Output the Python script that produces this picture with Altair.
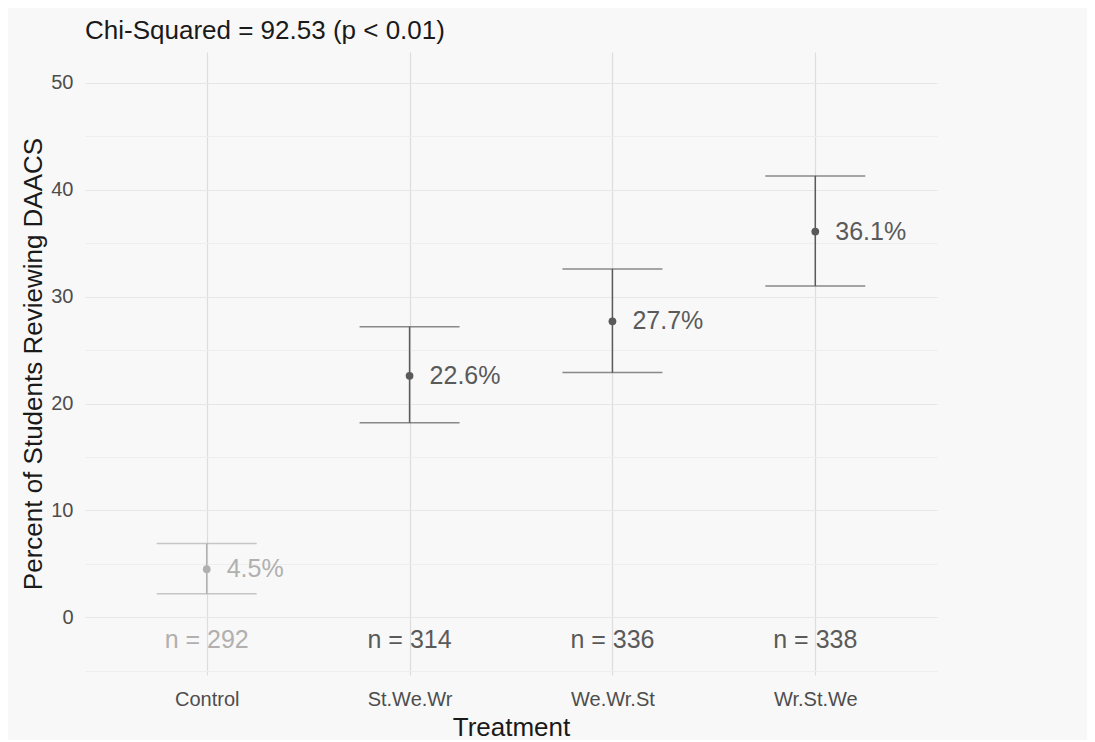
import altair as alt
import pandas as pd

treatments = ["Control", "St.We.Wr", "We.Wr.St", "Wr.St.We"]
percent = [4.5, 22.6, 27.7, 36.1]
lower = [2.2, 18.2, 22.9, 31.0]
upper = [6.9, 27.2, 32.6, 41.3]
n_students = [292, 314, 336, 338]
groups = ["control" if t == "Control" else "treatment" for t in treatments]

df = pd.DataFrame({
    "Treatment": treatments,
    "pct": percent,
    "lo": lower,
    "hi": upper,
    "n": n_students,
    "group": groups,
})
df["pct_label"] = df["pct"].map(lambda v: f"{v:.1f}%")
df["n_label"] = df["n"].map(lambda v: f"n = {v}")

FONT = "Liberation Sans"

x_enc = alt.X(
    "Treatment:N",
    sort=treatments,
    scale=alt.Scale(type="point", padding=0.6),
    axis=alt.Axis(
        title="Treatment",
        grid=True,
        ticks=False,
        domain=False,
        labelPadding=14,
        labelFontSize=20,
        labelColor="#4d4d4d",
        titleFontSize=26,
        titleColor="#1a1a1a",
        titleFontWeight="normal",
        titlePadding=5,
        labelAngle=0,
    ),
)

y_scale = alt.Scale(domain=[-5.4, 52.9], nice=False, zero=False)
y_axis = alt.Axis(
    title="Percent of Students Reviewing DAACS",
    values=[-5, 0, 5, 10, 15, 20, 25, 30, 35, 40, 45, 50],
    labelExpr="(datum.value % 10 == 0 && datum.value >= 0) ? datum.label : ''",
    ticks=False,
    domain=False,
    labelPadding=12,
    labelFontSize=20,
    labelColor="#4d4d4d",
    titleFontSize=26,
    titleColor="#1a1a1a",
    titleFontWeight="normal",
    titlePadding=4,
    gridColor={"condition": {"test": "datum.value % 10 == 0", "value": "#e6e6e6"}, "value": "#eeeeee"},
)

color_scale = alt.Scale(domain=["control", "treatment"], range=["#b0b0b0", "#5a5a5a"])
col = alt.Color("group:N", scale=color_scale, legend=None)

base = alt.Chart(df).encode(x=x_enc)

rules = base.mark_rule(strokeWidth=1.5).encode(
    y=alt.Y("lo:Q", scale=y_scale, axis=y_axis),
    y2="hi:Q",
    color=col,
)
caps_lo = base.mark_tick(size=100, thickness=1.5, orient="horizontal").encode(
    y=alt.Y("lo:Q", scale=y_scale), color=col
)
caps_hi = base.mark_tick(size=100, thickness=1.5, orient="horizontal").encode(
    y=alt.Y("hi:Q", scale=y_scale), color=col
)
points = base.mark_point(filled=True, size=60, opacity=1).encode(
    y=alt.Y("pct:Q", scale=y_scale), color=col
)
pct_text = base.mark_text(align="left", baseline="middle", dx=20, fontSize=25, font=FONT).encode(
    y=alt.Y("pct:Q", scale=y_scale), text="pct_label:N", color=col
)
n_text = base.mark_text(align="center", baseline="middle", fontSize=25, font=FONT).encode(
    y=alt.datum(-2.15), text="n_label:N", color=col
)

chart = alt.layer(rules, caps_lo, caps_hi, points, pct_text, n_text).properties(
    width=852,
    height=623,
    autosize=alt.AutoSizeParams(type="none"),
    padding={"left": 77, "top": 44, "right": 150, "bottom": 65},
    title=alt.TitleParams(
        "Chi-Squared = 92.53 (p < 0.01)",
        anchor="start",
        frame="group",
        fontSize=26,
        font=FONT,
        fontWeight="normal",
        color="#1a1a1a",
        offset=8,
    ),
).configure(
    background="#f8f8f8",
    font=FONT,
).configure_view(
    stroke=None,
).configure_axis(
    labelFont=FONT,
    titleFont=FONT,
    gridWidth=1.2,
)

chart.save("out.html", embed_options={"renderer": "svg", "actions": False})
